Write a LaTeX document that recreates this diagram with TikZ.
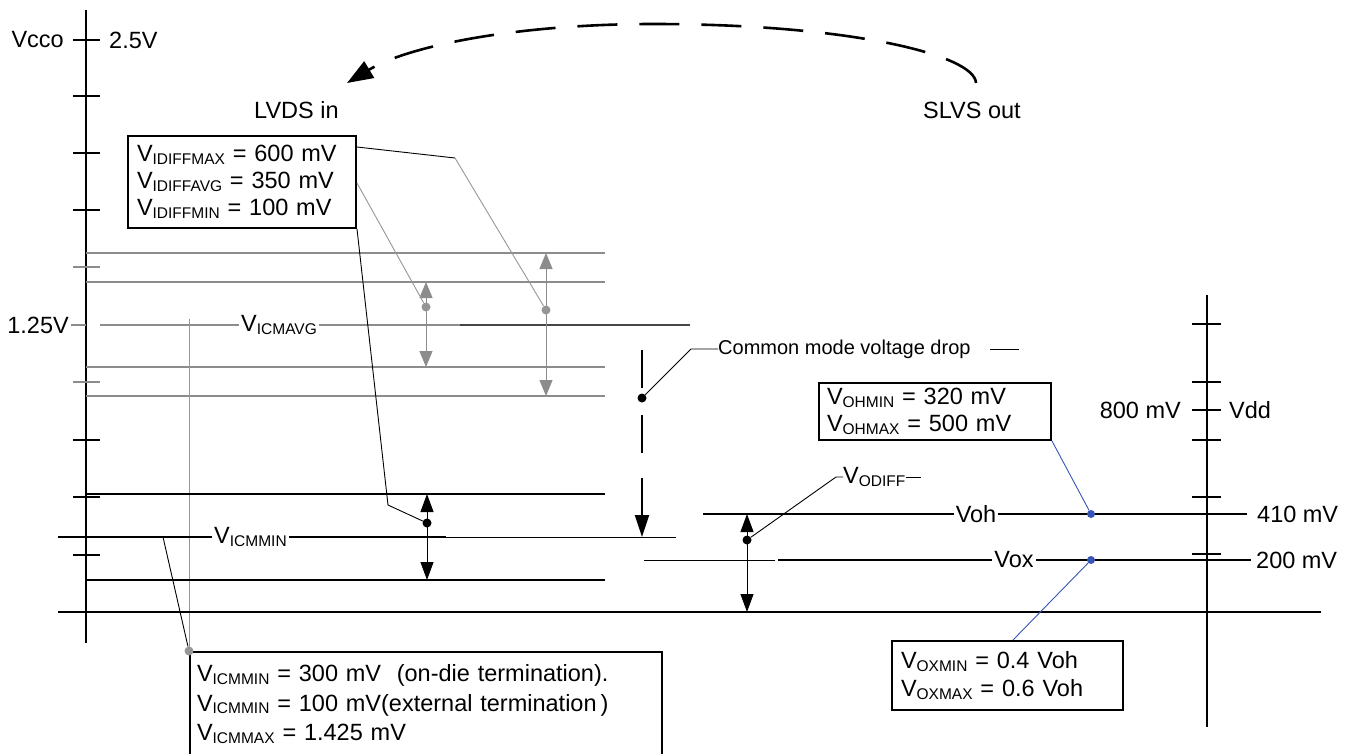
\documentclass[tikz,border=0pt]{standalone}
\usepackage{fontspec}
\setmainfont{Liberation Sans}
\usetikzlibrary{arrows.meta}
\definecolor{gry}{RGB}{140,140,140}
\definecolor{lgry}{RGB}{150,150,150}
\definecolor{dgry}{RGB}{70,70,70}
\definecolor{blu}{RGB}{55,85,185}
\newcommand{\vsub}[1]{V\raisebox{-2.5pt}{\fontsize{15.5}{15.5}\selectfont #1}}
\begin{document}
\begin{tikzpicture}[x=1pt,y=-1pt,
  every node/.style={font=\fontsize{23.5}{27}\selectfont, inner sep=0pt},
  axisline/.style={line width=2.6pt},
  tickline/.style={line width=1.2pt},
  gline/.style={line width=2pt, gry},
  kline/.style={line width=2pt},
  thinline/.style={line width=1pt},
  leader/.style={line width=0.9pt},
  boxnode/.style={draw, line width=2pt, fill=white, anchor=north west, align=left},
  dotnode/.style={circle, fill, inner sep=0pt, minimum size=9pt},
  garrow/.style={line width=1pt, gry, {Triangle[length=16pt,width=13pt]}-{Triangle[length=16pt,width=13pt]}},
  karrow/.style={line width=1pt, {Triangle[length=18pt,width=13pt]}-{Triangle[length=18pt,width=13pt]}},
  lbl/.style={fill=white, inner xsep=2pt, inner ysep=1pt}
]
\useasboundingbox (0,0) rectangle (1353,753);
\clip (0,0) rectangle (1353,753);

% dashed arc
\draw[line width=2.6pt, dash pattern=on 40pt off 22pt, -{Triangle[length=26pt,width=19pt]}]
  (976,83) .. controls (975,55) and (850,24) .. (653,24) .. controls (520,24) and (410,45) .. (347,83);
\node[anchor=west] (lvds) at (254,110) {LVDS in};
\node (slvs) at (972,110) {SLVS out};

% left axis
\draw[axisline] (86,10) -- (86,643);
\foreach \y in {40,96,153,210,440,497,555} \draw[tickline] (73,\y) -- (100,\y);
\foreach \y in {267,382} \draw[tickline,gry] (73,\y) -- (100,\y);
\draw[tickline,gry] (71,325) -- (86,325);
\node[anchor=east] (vcco) at (64,40) {Vcco};
\node[anchor=west] (v25) at (109,40) {2.5V};
\node[anchor=east] (v125) at (69,325) {1.25V};

% gray LVDS lines
\foreach \y in {253,282,367,396} \draw[gline] (86,\y) -- (605,\y);
\draw[gline] (100,325) -- (460,325);
\draw[line width=1.3pt, dgry] (460,325) -- (690,325);
\node[lbl, anchor=west] (icmavg) at (239,325) {\vsub{ICMAVG}};

% gray vertical leader to ICM box
\draw[leader, lgry] (189,319) -- (189,651);

% gray double arrows
\draw[garrow] (426,282) -- (426,367);
\draw[garrow] (546,253) -- (546,396);
\node[dotnode, lgry] (d1) at (426,307) {};
\node[dotnode, lgry] (d2) at (546,310) {};

% black lines
\draw[kline] (86,494) -- (605,494);
\draw[kline] (86,580) -- (605,580);
\draw[kline] (58,612) -- (1321,612);
\draw[kline] (58,537) -- (446,537);
\draw[thinline] (446,537) -- (676,537);
\node[lbl, anchor=west] (icmmin) at (212,537) {\vsub{ICMMIN}};
\draw[karrow] (427,494) -- (427,580);
\node[dotnode] (d3) at (427,523) {};

% VIDIFF box
\node[boxnode, minimum width=228pt, minimum height=92pt, text width=210pt, inner xsep=9pt] (bid) at (127,135)
 {\vsub{IDIFFMAX} = 600 mV\\ \vsub{IDIFFAVG} = 350 mV\\ \vsub{IDIFFMIN} = 100 mV};
\coordinate (bend1) at (455,158);
\draw[leader] ([yshift=-12pt]bid.north east) -- (bend1);
\draw[leader, lgry] (bend1) -- (d2);
\draw[leader, lgry] ([yshift=-48pt]bid.north east) -- (d1);
\draw[leader] (bid.south east) -- (388,505) -- (d3);

% ICM box
\node[boxnode, minimum width=472pt, minimum height=104pt, text width=458pt, inner xsep=7pt, font=\fontsize{23.5}{29.5}\selectfont] (bic) at (189,651)
 {\vsub{ICMMIN} = 300 mV \ (on-die termination).\\ \vsub{ICMMIN} = 100 mV(external termination\,)\\ \vsub{ICMMAX} = 1.425 mV};
\node[dotnode, lgry] (d0) at (bic.north west) {};
\draw[leader] (163,537) -- (d0);

% common mode drop
\draw[kline] (642,350) -- (642,388);
\draw[kline] (642,415) -- (642,453);
\draw[kline, -{Triangle[length=22pt,width=14pt]}] (642,478) -- (642,537);
\node[dotnode] (d4) at (642,398) {};
\node[anchor=west, font=\fontsize{20}{24}\selectfont] (cm) at (718,349) {Common mode voltage drop};
\draw[leader] (d4) -- (691,349) -- (cm.west);
\draw[leader] ([xshift=19pt]cm.east) -- ++(29,0);

% SLVS output
\draw[kline] (703,514) -- (1247,514);
\node[lbl] (voh) at (976,514) {Voh};
\draw[thinline] (644,560) -- (775,560);
\draw[kline] (778,560) -- (1251,560);
\node[lbl] (vox) at (1014,560) {Vox};
\draw[karrow] (747,514) -- (747,612);
\node[dotnode] (d5) at (747,540) {};
\node[anchor=west] (odiff) at (843,477) {\vsub{ODIFF}};
\draw[leader] (d5) -- ([xshift=-7pt]odiff.west) -- (odiff.west);
\draw[leader] (odiff.east) -- ++(15,0);

\node[dotnode, blu, minimum size=8pt] (d6) at (1091,514) {};
\node[dotnode, blu, minimum size=8pt] (d7) at (1091,560) {};

\node[boxnode, minimum width=232pt, minimum height=57pt, text width=216pt, inner xsep=8pt] (boh) at (818,382)
 {\vsub{OHMIN} = 320 mV\\ \vsub{OHMAX} = 500 mV};
\draw[leader, blu] (boh.south east) -- (d6);

\node[boxnode, minimum width=231pt, minimum height=69pt, text width=213pt, inner xsep=9pt, font=\fontsize{23.5}{28}\selectfont] (box) at (891,640)
 {\vsub{OXMIN} = 0.4 Voh\\ \vsub{OXMAX} = 0.6 Voh};
\draw[leader, blu] ([xshift=122pt]box.north west) -- (d7);

% right axis
\draw[line width=2.2pt] (1207,295) -- (1207,727);
\foreach \y in {324,382,410,440,497,554} \draw[tickline] (1192,\y) -- (1221,\y);
\node[anchor=east] (v800) at (1181,410) {800 mV};
\node[anchor=west] (vdd) at (1229,410) {Vdd};
\node[anchor=west] (v410) at (1257,514) {410 mV};
\node[anchor=west] (v200) at (1256,560) {200 mV};
\end{tikzpicture}
\end{document}
